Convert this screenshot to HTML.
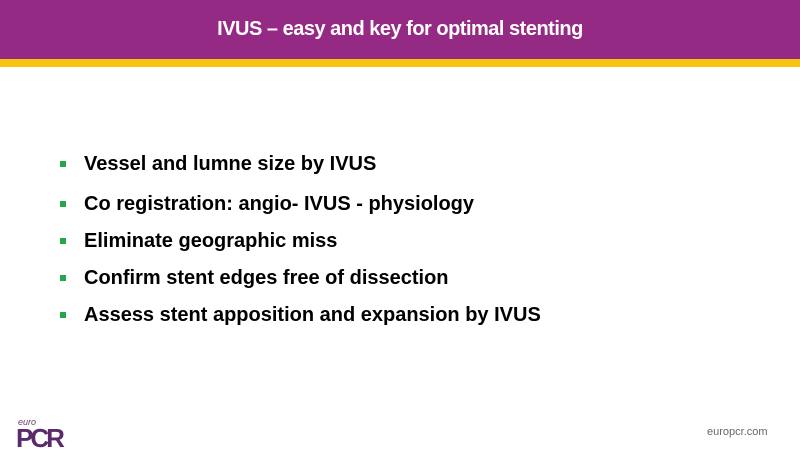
<!DOCTYPE html>
<html><head><style>
body{margin:0;width:800px;height:450px;background:#fff;position:relative;overflow:hidden;font-family:"Liberation Sans",sans-serif}
.h{position:absolute;left:0;top:0;width:800px;height:59px;background:#952a84}
.y{position:absolute;left:0;top:59px;width:800px;height:8px;background:#f6c514}
.t{position:absolute;left:0;top:18px;width:800px;text-align:center;color:#fff;font-size:20px;font-weight:bold;letter-spacing:-0.5px}
.b{position:absolute;left:84px;font-size:20px;font-weight:bold;color:#000;line-height:20px}
.b:before{content:"";position:absolute;left:-24px;top:7px;width:6px;height:6px;background:#22a84a}
.l1{position:absolute;left:18px;top:417px;font-size:9px;font-style:italic;color:#6b3b6b}
.l2{position:absolute;left:16px;top:423px;font-size:26px;font-weight:bold;color:#5b2a6b;letter-spacing:-3px}
.u{position:absolute;left:707px;top:426px;font-size:11px;color:#666}
</style></head><body>
<div class="h"></div><div class="y"></div>
<div class="t">IVUS – easy and key for optimal stenting</div>
<div class="b" style="top:154px">Vessel and lumne size by IVUS</div>
<div class="b" style="top:194px">Co registration: angio- IVUS - physiology</div>
<div class="b" style="top:231px">Eliminate geographic miss</div>
<div class="b" style="top:268px">Confirm stent edges free of dissection</div>
<div class="b" style="top:305px">Assess stent apposition and expansion by IVUS</div>
<div class="l1">euro</div><div class="l2">PCR</div>
<div class="u">europcr.com</div>
</body></html>
